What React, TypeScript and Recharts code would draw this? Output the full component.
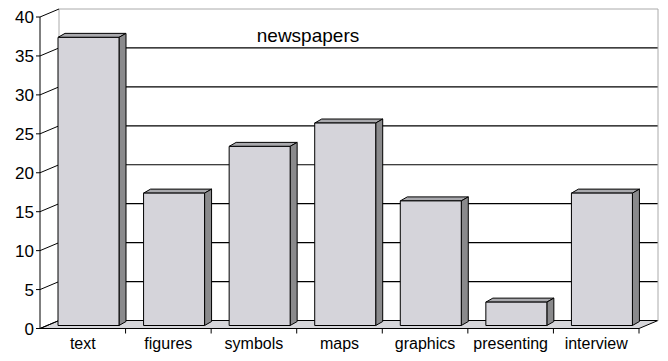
import { Bar, BarChart, CartesianGrid, XAxis, YAxis } from 'recharts';

const categories = ['text', 'figures', 'symbols', 'maps', 'graphics', 'presenting', 'interview'];
const counts = [37, 17, 23, 26, 16, 3, 17];
const yTicks = [0, 5, 10, 15, 20, 25, 30, 35, 40];

const data = categories.map((name, i) => ({ name, value: counts[i] }));

// depth of the back wall, and of each bar
const WALL_DX = 19;
const WALL_DY = 8;
const BAR_DX = 7;
const BAR_DY = 4;
const FONT = '"Liberation Sans", Arial, sans-serif';

function WallLine(props: any) {
  const { x1, y1, x2, y2, index } = props;
  const bx1 = x1 + WALL_DX;
  const bx2 = x2 + WALL_DX;
  const by = y1 - WALL_DY;
  const isTop = index === yTicks.length - 1 || y1 < 20;
  const isFloor = y1 > 320;
  return (
    <g>
      {isFloor && (
        <polygon
          points={`${x1},${y1} ${x2},${y2} ${bx2},${by} ${bx1},${by}`}
          fill="#d6d6da"
          stroke="#000"
          strokeWidth={1}
        />
      )}
      {isTop && (
        <>
          <line x1={bx1} y1={by} x2={bx1} y2={by + 312} stroke="#aaa" />
          <line x1={bx2} y1={by} x2={bx2} y2={by + 312} stroke="#aaa" />
        </>
      )}
      <line x1={bx1} y1={by} x2={bx2} y2={by} stroke={isTop ? '#aaa' : '#000'} strokeWidth={isTop ? 1 : 1.2} />
      <line x1={x1} y1={y1} x2={bx1} y2={by} stroke="#000" strokeWidth={1} />
    </g>
  );
}

function Bar3D(props: any) {
  const { x, y, width, height } = props;
  const fx = x + 6;
  const fy = y - 3;
  const w = width;
  const h = height;
  return (
    <g stroke="#000" strokeWidth={1} strokeLinejoin="round">
      <polygon
        points={`${fx},${fy} ${fx + w},${fy} ${fx + w + BAR_DX},${fy - BAR_DY} ${fx + BAR_DX},${fy - BAR_DY}`}
        fill="#a9a9ad"
      />
      <polygon
        points={`${fx + w},${fy} ${fx + w + BAR_DX},${fy - BAR_DY} ${fx + w + BAR_DX},${fy + h - BAR_DY} ${fx + w},${fy + h}`}
        fill="#8a8a8c"
      />
      <rect x={fx} y={fy} width={w} height={h} fill="#d5d4da" />
    </g>
  );
}

function CategoryTick(props: any) {
  const { x, y, payload } = props;
  const half = 599 / 7 / 2;
  return (
    <g>
      <line x1={x + half} y1={y - 8} x2={x + half} y2={y - 3} stroke="#000" />
      <text x={x} y={y + 12} textAnchor="middle" fontFamily={FONT} fontSize={16} fill="#000">
        {payload.value}
      </text>
    </g>
  );
}

export default function App() {
  return (
    <div style={{ position: 'absolute', left: 0, top: 0, width: 668, height: 361, background: '#fff' }}>
      <BarChart
        width={668}
        height={361}
        data={data}
        margin={{ top: 17, right: 29, bottom: 0, left: 0 }}
      >
        <CartesianGrid vertical={false} horizontal={(p: any) => <WallLine key={p.key} {...p} />} />
        <XAxis
          dataKey="name"
          height={32.5}
          axisLine={{ stroke: '#000' }}
          tickLine={false}
          tick={<CategoryTick />}
          interval={0}
        />
        <YAxis
          width={40}
          domain={[0, 40]}
          ticks={yTicks}
          interval={0}
          axisLine={{ stroke: '#000' }}
          tickLine={{ stroke: '#000' }}
          tickSize={4}
          tick={{ fill: '#000', fontSize: 17, fontFamily: FONT }}
        />
        <Bar dataKey="value" barSize={61} shape={<Bar3D />} isAnimationActive={false} />
        <text x={308} y={42} textAnchor="middle" fontFamily={FONT} fontSize={19} fill="#000">
          newspapers
        </text>
      </BarChart>
    </div>
  );
}
